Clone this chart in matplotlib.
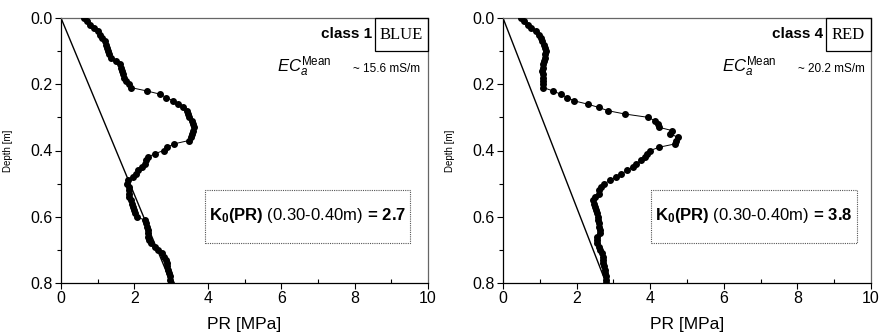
import numpy as np
import matplotlib
matplotlib.use("Agg")
import matplotlib.pyplot as plt
from matplotlib.patches import Rectangle

plt.rcParams['font.family'] = ['Liberation Sans', 'DejaVu Sans']
plt.rcParams['mathtext.fontset'] = 'custom'
plt.rcParams['mathtext.rm'] = 'Liberation Sans'
plt.rcParams['mathtext.it'] = 'Liberation Sans:italic'
plt.rcParams['mathtext.bf'] = 'Liberation Sans:bold'

# Depth grid of the penetrometer readings (m)
depth = np.round(np.linspace(0.0, 0.8, 81), 2)

# PR [MPa] – class 1 (BLUE)
pr_class1 = [0.62, 0.70, 0.80, 0.90, 1.02, 1.06, 1.12, 1.20, 1.23, 1.25,
             1.28, 1.32, 1.36, 1.50, 1.62, 1.64, 1.66, 1.68, 1.72, 1.78,
             1.84, 1.90, 2.33, 2.70, 2.87, 3.05, 3.20, 3.32, 3.42, 3.45,
             3.50, 3.56, 3.60, 3.62, 3.60, 3.58, 3.54, 3.48, 3.08, 2.90,
             2.80, 2.55, 2.37, 2.32, 2.28, 2.22, 2.10, 2.05, 1.95, 1.83,
             1.80, 1.84, 1.86, 1.84, 1.86, 1.90, 1.93, 1.95, 1.98, 2.02,
             2.06, 2.28, 2.32, 2.35, 2.37, 2.38, 2.38, 2.40, 2.45, 2.55,
             2.65, 2.75, 2.80, 2.85, 2.88, 2.90, 2.92, 2.94, 2.96, 2.98,
             3.00]

# PR [MPa] – class 4 (RED)
pr_class4 = [0.50, 0.58, 0.68, 0.77, 0.90, 0.97, 1.02, 1.07, 1.12, 1.15,
             1.17, 1.15, 1.13, 1.11, 1.10, 1.08, 1.07, 1.08, 1.09, 1.09,
             1.10, 1.10, 1.35, 1.57, 1.74, 1.93, 2.30, 2.60, 2.86, 3.32,
             3.95, 4.12, 4.20, 4.24, 4.60, 4.55, 4.75, 4.70, 4.68, 4.25,
             4.00, 3.90, 3.85, 3.76, 3.62, 3.52, 3.38, 3.22, 3.06, 2.92,
             2.75, 2.65, 2.62, 2.60, 2.50, 2.45, 2.48, 2.50, 2.52, 2.55,
             2.57, 2.59, 2.60, 2.62, 2.64, 2.64, 2.55, 2.55, 2.56, 2.60,
             2.64, 2.68, 2.72, 2.73, 2.73, 2.75, 2.77, 2.78, 2.80, 2.80,
             2.80]

class_labels = ["class 1", "class 4"]
colour_labels = ["BLUE", "RED"]
eca_values = ["~ 15.6 mS/m", "~ 20.2 mS/m"]
k0_values = ["2.7", "3.8"]
x_ticks = [0, 2, 4, 6, 8, 10]
y_ticks = [0.0, 0.2, 0.4, 0.6, 0.8]

fig = plt.figure(figsize=(8.81, 3.36), dpi=100)
axes_rects = [[61/881, 1-283/336, 367/881, 265/336],
              [503/881, 1-283/336, 368/881, 265/336]]
series = [pr_class1, pr_class4]
box_left = [0.856, 0.878]
class_x = [0.847, 0.870]
ec_x = [0.589, 0.595]
tilde_x = [0.978, 0.984]
k0_box = [(0.392, 0.951), (0.402, 0.962)]

for i, ax in enumerate([fig.add_axes(r) for r in axes_rects]):
    pr = series[i]
    ax.plot(pr, depth, '-', color='black', lw=0.7, marker='o',
            markersize=4.0, markerfacecolor='black', markeredgecolor='black',
            zorder=3)
    # reference line from surface to last reading
    ax.plot([0, pr[-1]], [depth[0], depth[-1]], '-', color='black', lw=1.0,
            zorder=2)
    ax.set_xlim(0, 10)
    ax.set_ylim(0.8, 0.0)
    ax.set_xticks(x_ticks)
    ax.set_xticklabels([str(t) for t in x_ticks])
    ax.set_xticks([1, 3, 5, 7, 9], minor=True)
    ax.set_yticks(y_ticks)
    ax.set_yticklabels([f"{t:.1f}" for t in y_ticks])
    ax.set_yticks([0.1, 0.3, 0.5, 0.7], minor=True)
    ax.tick_params(axis='both', which='major', labelsize=11.5, length=4,
                   width=0.8, direction='out', pad=2)
    ax.tick_params(axis='x', which='minor', length=3, width=0.8,
                   direction='in')
    ax.tick_params(axis='y', which='minor', length=3, width=0.8,
                   direction='out')
    for s in ['top', 'right']:
        ax.spines[s].set_color('#666666')
        ax.spines[s].set_linewidth(0.9)
    for s in ['left', 'bottom']:
        ax.spines[s].set_linewidth(0.9)
    ax.set_xlabel("PR [MPa]", fontsize=12.5)
    ax.xaxis.set_label_coords(0.5, -0.13)
    ax.set_ylabel("Depth [m]", fontsize=7)
    ax.yaxis.set_label_coords(-0.13, 0.5)

    # colour box at top-right
    ax.add_patch(Rectangle((box_left[i], 0.875), 1 - box_left[i], 0.125,
                           transform=ax.transAxes, fill=False,
                           edgecolor='black', lw=0.9, zorder=5,
                           clip_on=False))
    ax.text((box_left[i] + 1) / 2, 0.935, colour_labels[i],
            transform=ax.transAxes, ha='center', va='center',
            fontsize=12, family='Liberation Serif')
    ax.text(class_x[i], 0.94, class_labels[i], transform=ax.transAxes,
            ha='right', va='center', fontsize=11, fontweight='bold')
    ax.text(ec_x[i], 0.795, r'$EC_a^{\mathrm{Mean}}$',
            transform=ax.transAxes, ha='left', va='baseline', fontsize=12)
    ax.text(tilde_x[i], 0.797, eca_values[i], transform=ax.transAxes,
            ha='right', va='baseline', fontsize=8.5)

    x0, x1 = k0_box[i]
    ax.add_patch(Rectangle((x0, 0.151), x1 - x0, 0.200,
                           transform=ax.transAxes, fill=False,
                           edgecolor='#555555', lw=0.8, linestyle=(0, (1, 1)),
                           zorder=4))
    ax.text((x0 + x1) / 2, 0.255,
            r'$\mathbf{K_0(PR)}$ (0.30-0.40m)$\,\mathbf{=}\,\mathbf{'
            + k0_values[i] + '}$',
            transform=ax.transAxes, ha='center', va='center', fontsize=12)

fig.savefig("out.png", dpi=100)
